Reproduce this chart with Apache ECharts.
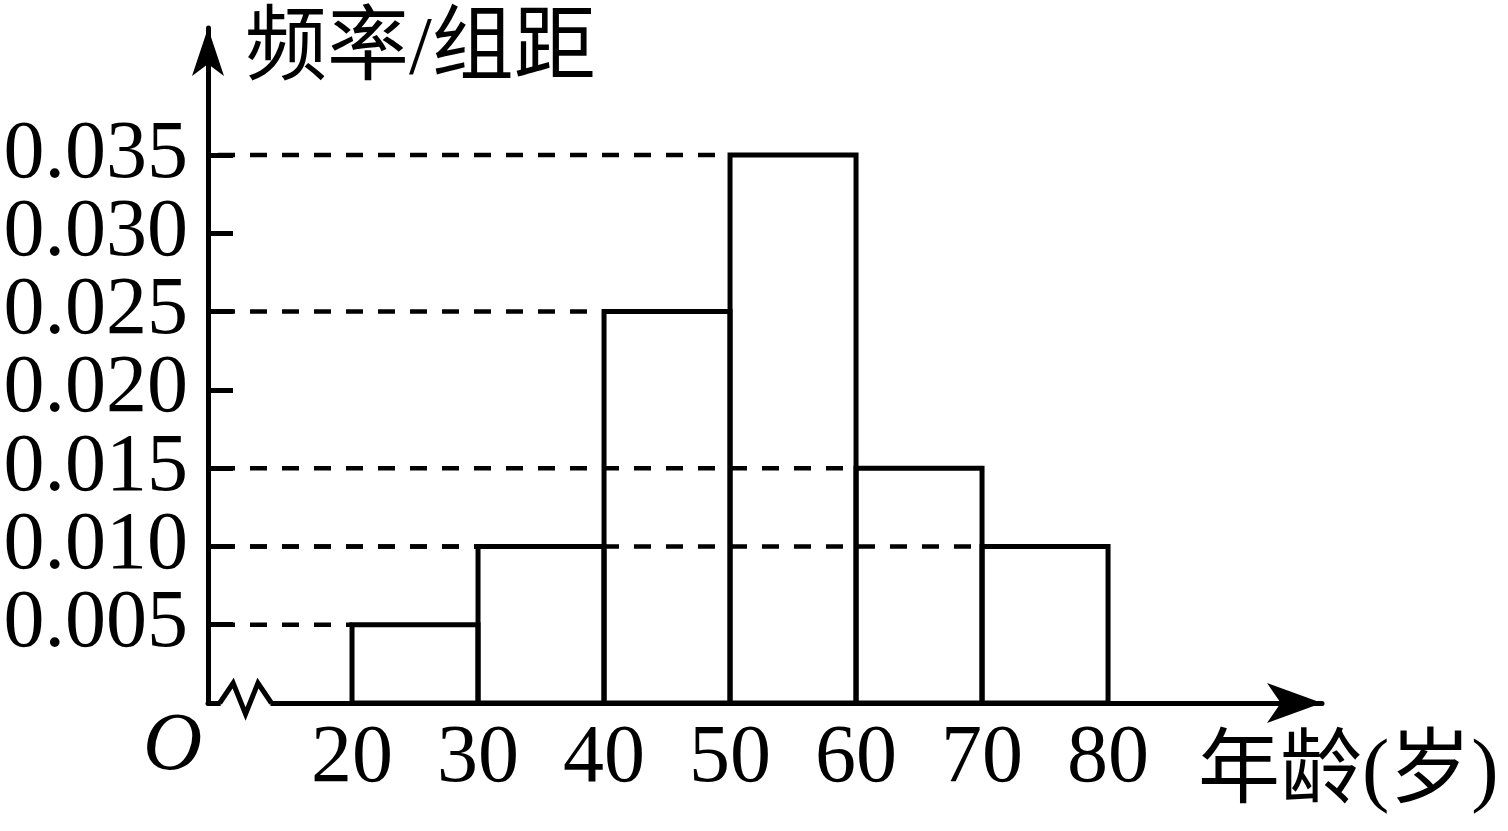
<!DOCTYPE html>
<html>
<head>
<meta charset="utf-8">
<script src="https://cdn.jsdelivr.net/npm/echarts@6/dist/echarts.min.js"></script>
<style>
  html, body { margin: 0; padding: 0; background: #fff; }
  #chart { width: 1508px; height: 831px; }
</style>
</head>
<body>
<div id="chart"></div>
<script>
// histogram bins: left edges, right edges, frequency / group width
const binStarts = [20, 30, 40, 50, 60, 70]
const binEnds = [30, 40, 50, 60, 70, 80]
const heights = [0.005, 0.010, 0.025, 0.035, 0.015, 0.010]

const xTickValues = [20, 30, 40, 50, 60, 70, 80]
const yTickValues = [0.005, 0.010, 0.015, 0.020, 0.025, 0.030, 0.035]

// axis range (x axis is broken near the origin)
const xMin = 8.57
const xMax = 96.98
const yMax = 0.04311
const breakFrom = 9.5
const breakTo = 13.6

const serif = '"Liberation Serif", "Times New Roman", serif'
const mixed = '"Liberation Serif", "Noto Sans CJK SC", serif'
const LW = 5

// the labels are taller than their spacing, so they are split over two
// overlaid y axes to stop echarts from dropping some of them
const yOdd = yTickValues.filter((v, i) => i % 2 === 0)
const yEven = yTickValues.filter((v, i) => i % 2 === 1)

const yAxisBase = (ticks, withLine) => ({
  type: 'value',
  min: 0,
  max: yMax,
  position: 'left',
  splitLine: { show: false },
  axisLine: {
    show: withLine,
    onZero: false,
    symbol: ['none', 'arrow'],
    symbolSize: [24, 48],
    lineStyle: { color: '#000', width: LW }
  },
  axisTick: {
    customValues: ticks,
    inside: true,
    length: 25,
    lineStyle: { color: '#000', width: LW }
  },
  axisLabel: {
    customValues: ticks,
    showMinLabel: true,
    showMaxLabel: true,
    hideOverlap: false,
    margin: 20,
    color: '#000',
    fontFamily: serif,
    fontSize: 82,
    formatter: v => v.toFixed(3)
  }
})

const chart = echarts.init(document.getElementById('chart'))

chart.setOption({
  animation: false,
  grid: { left: 208, right: 186, top: 28, bottom: 128, containLabel: false, outerBoundsMode: 'none' },
  xAxis: {
    type: 'value',
    min: xMin,
    max: xMax,
    splitLine: { show: false },
    axisTick: { show: false },
    axisLine: {
      onZero: false,
      symbol: ['none', 'arrow'],
      symbolSize: [30, 55],
      lineStyle: { color: '#000', width: LW }
    },
    axisLabel: {
      customValues: xTickValues,
      showMinLabel: true,
      showMaxLabel: true,
      hideOverlap: false,
      margin: 15,
      color: '#000',
      fontFamily: serif,
      fontSize: 82
    }
  },
  yAxis: [yAxisBase(yOdd, true), yAxisBase(yEven, false)],
  graphic: [
    { type: 'text', left: 245, top: 10, style: { text: '频率/组距', font: '82px ' + mixed, fill: '#000' } },
    { type: 'text', left: 1198, top: 733, style: { text: '年龄(岁)', font: '82px ' + mixed, fill: '#000' } },
    { type: 'text', left: 143, top: 706, style: { text: 'O', font: 'italic 82px ' + serif, fill: '#000' } }
  ],
  series: [
    {
      // dashed guide from the y axis to each bar's left edge
      type: 'custom',
      z: 2,
      data: binStarts.map((s, i) => [s, heights[i]]),
      renderItem: (params, api) => {
        const a = api.coord([xMin, api.value(1)])
        const b = api.coord([api.value(0), api.value(1)])
        return {
          type: 'line',
          shape: { x1: a[0], y1: a[1], x2: b[0], y2: b[1] },
          style: { stroke: '#000', lineWidth: 4.5, lineDash: [17, 15], lineDashOffset: -10 }
        }
      }
    },
    {
      type: 'custom',
      z: 3,
      data: binStarts.map((s, i) => [s, binEnds[i], heights[i]]),
      renderItem: (params, api) => {
        const tl = api.coord([api.value(0), api.value(2)])
        const br = api.coord([api.value(1), 0])
        return {
          type: 'rect',
          shape: { x: tl[0], y: tl[1], width: br[0] - tl[0], height: br[1] - tl[1] },
          style: { fill: 'none', stroke: '#000', lineWidth: LW }
        }
      }
    },
    {
      // axis break zigzag
      type: 'custom',
      z: 4,
      data: [[breakFrom, breakTo]],
      renderItem: (params, api) => {
        const p0 = api.coord([api.value(0), 0])
        const p1 = api.coord([api.value(1), 0])
        const w = p1[0] - p0[0]
        const y = p0[1]
        const pts = [
          [p0[0], y],
          [p0[0] + w * 0.26, y - 20],
          [p0[0] + w * 0.5, y + 11],
          [p0[0] + w * 0.74, y - 20],
          [p1[0], y]
        ]
        return {
          type: 'group',
          children: [
            { type: 'rect', shape: { x: p0[0] + 1, y: y - 4, width: w - 2, height: 8 }, style: { fill: '#fff' } },
            { type: 'polyline', shape: { points: pts }, style: { fill: 'none', stroke: '#000', lineWidth: LW, lineJoin: 'miter' } }
          ]
        }
      }
    }
  ]
})
</script>
</body>
</html>
